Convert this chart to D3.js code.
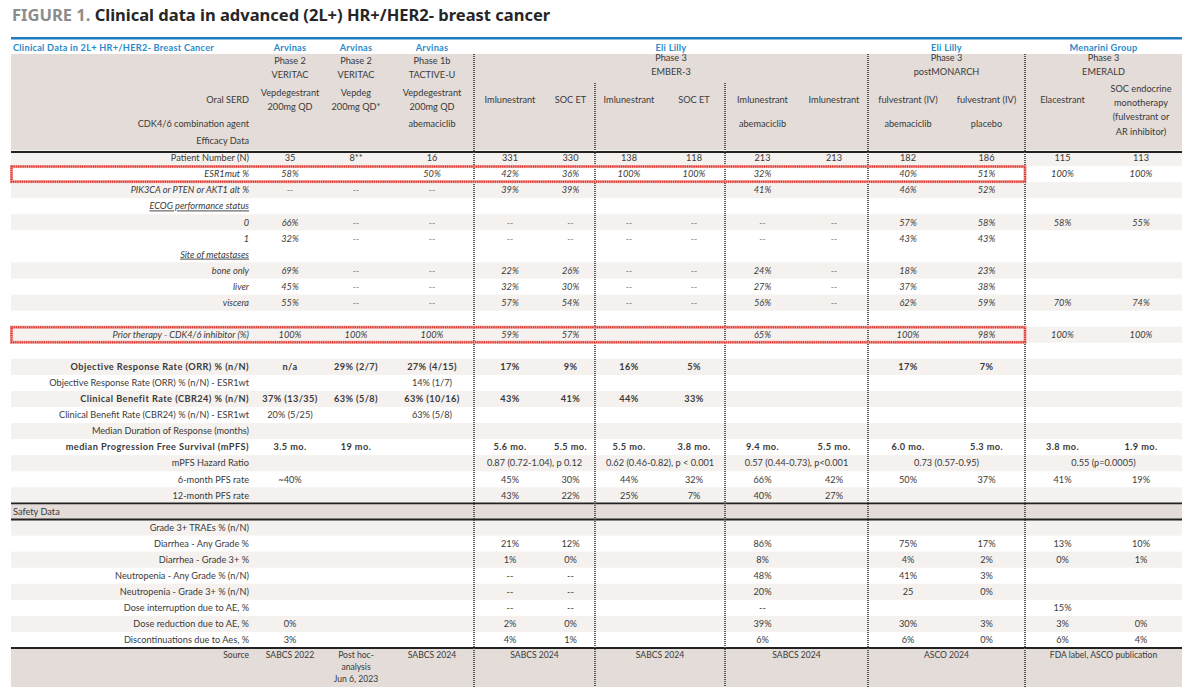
<!DOCTYPE html>
<html>
<head>
<meta charset="utf-8">
<script src="https://cdn.jsdelivr.net/npm/d3@7"></script>
<style>
  body { margin: 0; background: #fff; }
  svg text { font-family: Lato, "Noto Sans", sans-serif; }
</style>
</head>
<body>
<svg id="chart" width="1200" height="698"></svg>
<script>
// ================= data =================
var companies  = ["Arvinas", "Arvinas", "Arvinas", "Eli Lilly", "Eli Lilly", "Menarini Group"];
var phases     = ["Phase 2", "Phase 2", "Phase 1b", "Phase 3", "Phase 3", "Phase 3"];
var trials     = ["VERITAC", "VERITAC", "TACTIVE-U", "EMBER-3", "postMONARCH", "EMERALD"];
var trialSpans = [[0, 0], [1, 1], [2, 2], [3, 8], [9, 10], [11, 12]];
var pairSpans  = [[0, 0], [1, 1], [2, 2], [3, 4], [5, 6], [7, 8], [9, 10], [11, 12]];

var oralSerd = ["Vepdegestrant\n200mg QD", "Vepdeg\n200mg QD*", "Vepdegestrant\n200mg QD",
  "Imlunestrant", "SOC ET", "Imlunestrant", "SOC ET", "Imlunestrant", "Imlunestrant",
  "fulvestrant (IV)", "fulvestrant (IV)", "Elacestrant",
  "SOC endocrine\nmonotherapy\n(fulvestrant or\nAR inhibitor)"];
var cdkAgent = ["", "", "abemaciclib", "", "", "", "", "abemaciclib", "", "abemaciclib", "placebo", "", ""];

var patientN   = ["35", "8**", "16", "331", "330", "138", "118", "213", "213", "182", "186", "115", "113"];
var esr1Mut    = ["58%", "", "50%", "42%", "36%", "100%", "100%", "32%", "", "40%", "51%", "100%", "100%"];
var pik3ca     = ["--", "--", "--", "39%", "39%", "", "", "41%", "", "46%", "52%", "", ""];
var ecog0      = ["66%", "--", "--", "--", "--", "--", "--", "--", "--", "57%", "58%", "58%", "55%"];
var ecog1      = ["32%", "--", "--", "--", "--", "--", "--", "--", "--", "43%", "43%", "", ""];
var boneOnly   = ["69%", "--", "--", "22%", "26%", "--", "--", "24%", "--", "18%", "23%", "", ""];
var liver      = ["45%", "--", "--", "32%", "30%", "--", "--", "27%", "--", "37%", "38%", "", ""];
var viscera    = ["55%", "--", "--", "57%", "54%", "--", "--", "56%", "--", "62%", "59%", "70%", "74%"];
var priorCdk   = ["100%", "100%", "100%", "59%", "57%", "", "", "65%", "", "100%", "98%", "100%", "100%"];
var orr        = ["n/a", "29% (2/7)", "27% (4/15)", "17%", "9%", "16%", "5%", "", "", "17%", "7%", "", ""];
var orrWt      = ["", "", "14% (1/7)", "", "", "", "", "", "", "", "", "", ""];
var cbr        = ["37% (13/35)", "63% (5/8)", "63% (10/16)", "43%", "41%", "44%", "33%", "", "", "", "", "", ""];
var cbrWt      = ["20% (5/25)", "", "63% (5/8)", "", "", "", "", "", "", "", "", "", ""];
var mpfs       = ["3.5 mo.", "19 mo.", "", "5.6 mo.", "5.5 mo.", "5.5 mo.", "3.8 mo.", "9.4 mo.", "5.5 mo.",
                  "6.0 mo.", "5.3 mo.", "3.8 mo.", "1.9 mo."];
var hazard     = ["", "", "", "0.87 (0.72-1.04), p 0.12", "0.62 (0.46-0.82), p < 0.001",
                  "0.57 (0.44-0.73), p<0.001", "0.73 (0.57-0.95)", "0.55 (p=0.0005)"];
var pfs6       = ["~40%", "", "", "45%", "30%", "44%", "32%", "66%", "42%", "50%", "37%", "41%", "19%"];
var pfs12      = ["", "", "", "43%", "22%", "25%", "7%", "40%", "27%", "", "", "", ""];
var diarAny    = ["", "", "", "21%", "12%", "", "", "86%", "", "75%", "17%", "13%", "10%"];
var diarG3     = ["", "", "", "1%", "0%", "", "", "8%", "", "4%", "2%", "0%", "1%"];
var neutAny    = ["", "", "", "--", "--", "", "", "48%", "", "41%", "3%", "", ""];
var neutG3     = ["", "", "", "--", "--", "", "", "20%", "", "25", "0%", "", ""];
var doseInt    = ["", "", "", "--", "--", "", "", "--", "", "", "", "15%", ""];
var doseRed    = ["0%", "", "", "2%", "0%", "", "", "39%", "", "30%", "3%", "3%", "0%"];
var discont    = ["3%", "", "", "4%", "1%", "", "", "6%", "", "6%", "0%", "6%", "4%"];
var sources    = ["SABCS 2022", "Post hoc-\nanalysis\nJun 6, 2023", "SABCS 2024", "SABCS 2024",
                  "SABCS 2024", "SABCS 2024", "ASCO 2024", "FDA label, ASCO publication"];

// body rows (label, values, look)
var rows = [
  {key: "n",     label: "Patient Number (N)", values: patientN},
  {key: "esr1",  label: "ESR1mut %", values: esr1Mut, it: true},
  {key: "pik",   label: "PIK3CA or PTEN or AKT1 alt %", values: pik3ca, it: true},
  {key: "ecog",  label: "ECOG performance status", it: true, ul: true},
  {key: "e0",    label: "0", values: ecog0, it: true},
  {key: "e1",    label: "1", values: ecog1, it: true},
  {key: "site",  label: "Site of metastases", it: true, ul: true},
  {key: "bone",  label: "bone only", values: boneOnly, it: true},
  {key: "liver", label: "liver", values: liver, it: true},
  {key: "visc",  label: "viscera", values: viscera, it: true},
  {key: "b1",    label: ""},
  {key: "prior", label: "Prior therapy - CDK4/6 inhibitor (%)", values: priorCdk, it: true},
  {key: "b2",    label: ""},
  {key: "orr",   label: "Objective Response Rate (ORR) % (n/N)", values: orr, bold: true},
  {key: "orrwt", label: "Objective Response Rate (ORR) % (n/N) - ESR1wt", values: orrWt},
  {key: "cbr",   label: "Clinical Benefit Rate (CBR24) % (n/N)", values: cbr, bold: true},
  {key: "cbrwt", label: "Clinical Benefit Rate (CBR24) % (n/N) - ESR1wt", values: cbrWt},
  {key: "dor",   label: "Median Duration of Response (months)"},
  {key: "mpfs",  label: "median Progression Free Survival (mPFS)", values: mpfs, bold: true},
  {key: "hr",    label: "mPFS Hazard Ratio", spans: hazard},
  {key: "p6",    label: "6-month PFS rate", values: pfs6},
  {key: "p12",   label: "12-month PFS rate", values: pfs12},
  {key: "safety", label: "Safety Data", band: true},
  {key: "g3",    label: "Grade 3+ TRAEs % (n/N)"},
  {key: "da",    label: "Diarrhea - Any Grade %", values: diarAny},
  {key: "d3",    label: "Diarrhea - Grade 3+ %", values: diarG3},
  {key: "na",    label: "Neutropenia - Any Grade % (n/N)", values: neutAny},
  {key: "n3",    label: "Neutropenia - Grade 3+ % (n/N)", values: neutG3},
  {key: "di",    label: "Dose interruption due to AE, %", values: doseInt},
  {key: "dr",    label: "Dose reduction due to AE, %", values: doseRed},
  {key: "dc",    label: "Discontinuations due to Aes, %", values: discont}
];
var redBoxRows = ["esr1", "prior"];

// ================= layout =================
var left = 11, right = 1182;
var colWidths = [247, 64, 68, 84, 72, 49, 68, 62, 75, 68, 80, 77, 75, 82];
var edges = [left].concat(Array.from(d3.cumsum(colWidths), function(d) { return d + left; }));
var labelRight = edges[1] - 9;
var GREY = "#e3dcd8", STRIPE = "#f4f1ef", BLUE = "#2a8bcb", INK = "#3a3a3a";
var FS = "9.2px";

var x = d3.scaleOrdinal()
  .domain(d3.range(13))
  .range(d3.range(13).map(function(j) { return (edges[j + 1] + edges[j + 2]) / 2; }));
function spanX(s) { return (edges[s[0] + 1] + edges[s[1] + 2]) / 2; }

var y = d3.scaleBand().domain(rows.map(function(r) { return r.key; })).range([150, 648]);
var bh = y.bandwidth();

var svg = d3.select("#chart");

// title
var title = svg.append("text").attr("x", 12).attr("y", 21)
  .attr("font-size", "16.5px").attr("font-weight", 700)
  .style("font-family", "'Noto Sans', sans-serif");
title.append("tspan").attr("fill", "#8c8c8c").text("FIGURE 1. ");
title.append("tspan").attr("fill", "#262626").text("Clinical data in advanced (2L+) HR+/HER2- breast cancer");

// top blue rule
svg.append("rect").attr("x", left).attr("y", 37).attr("width", right - left).attr("height", 2.5).attr("fill", "#1f7cbf");

// grey header band
svg.append("rect").attr("x", left).attr("y", 54).attr("width", right - left).attr("height", 98).attr("fill", GREY);

// stripes & safety band
rows.forEach(function(r, i) {
  var shaded = i < 6 ? i % 2 === 0 : i % 2 === 1;
  if (r.band) {
    svg.append("rect").attr("x", left).attr("y", y(r.key)).attr("width", right - left).attr("height", bh).attr("fill", GREY);
  } else if (shaded) {
    svg.append("rect").attr("x", left).attr("y", y(r.key)).attr("width", right - left).attr("height", bh).attr("fill", STRIPE);
  }
});

// source band
svg.append("rect").attr("x", left).attr("y", 648).attr("width", right - left).attr("height", 39).attr("fill", GREY);

// black rules
[152, y("safety"), y("safety") + bh, 648].forEach(function(yy) {
  svg.append("line").attr("x1", left).attr("x2", right).attr("y1", yy).attr("y2", yy)
    .attr("stroke", "#222").attr("stroke-width", 1.8);
});

// dotted vertical dividers
var dividers = [{c: 3, top: 54}, {c: 5, top: 83}, {c: 7, top: 83}, {c: 9, top: 54}, {c: 11, top: 54}];
dividers.forEach(function(d) {
  var xx = edges[d.c + 1];
  svg.append("line").attr("x1", xx).attr("x2", xx).attr("y1", d.top).attr("y2", 687)
    .attr("stroke", "#4a4a4a").attr("stroke-width", 1.8).attr("stroke-dasharray", "1,1");
});

// red highlight boxes
redBoxRows.forEach(function(k) {
  svg.append("rect").attr("x", left + 0.5).attr("y", y(k) + 0.5)
    .attr("width", edges[12] - left - 0.5).attr("height", bh - 1)
    .attr("fill", "none").attr("stroke", "#f2a09a").attr("stroke-width", 3);
  svg.append("rect").attr("x", left + 0.5).attr("y", y(k) + 0.5)
    .attr("width", edges[12] - left - 0.5).attr("height", bh - 1)
    .attr("fill", "none").attr("stroke", "#d9302a").attr("stroke-width", 2)
    .attr("stroke-dasharray", "1.2,1");
});

// helper for multi-line text
function multi(g, xx, yc, str, lineH, anchor) {
  var lines = str.split("\n");
  var t = g.append("text").attr("text-anchor", anchor || "middle").attr("font-size", FS).attr("fill", INK);
  lines.forEach(function(l, k) {
    t.append("tspan").attr("x", xx).attr("y", yc + (k - (lines.length - 1) / 2) * lineH)
      .attr("dy", "0.35em").text(l);
  });
  return t;
}

var g = svg.append("g");

// header row
g.append("text").attr("x", 13).attr("y", 48).attr("dy", "0.35em")
  .attr("font-size", FS).attr("font-weight", 700).attr("fill", BLUE)
  .attr("letter-spacing", "0.25px")
  .text("Clinical Data in 2L+ HR+/HER2- Breast Cancer");
companies.forEach(function(c, i) {
  g.append("text").attr("x", spanX(trialSpans[i])).attr("y", 48).attr("dy", "0.35em")
    .attr("text-anchor", "middle").attr("font-size", FS).attr("font-weight", 700)
    .attr("letter-spacing", "0.25px").attr("fill", BLUE).text(c);
  multi(g, spanX(trialSpans[i]), i < 3 ? 68 : 65, phases[i] + "\n" + trials[i], 13.5);
});

// header labels
[["Oral SERD", 100], ["CDK4/6 combination agent", 124], ["Efficacy Data", 141]].forEach(function(d) {
  g.append("text").attr("x", labelRight).attr("y", d[1]).attr("dy", "0.35em")
    .attr("text-anchor", "end").attr("font-size", FS).attr("fill", INK).text(d[0]);
});
oralSerd.forEach(function(s, j) {
  var n = s.split("\n").length;
  multi(g, x(j), n > 2 ? 110 : 100, s, n > 2 ? 14.3 : 14);
});
cdkAgent.forEach(function(s, j) {
  if (s) multi(g, x(j), 124, s, 14);
});

// body rows
rows.forEach(function(r) {
  var yc = y(r.key) + bh / 2;
  var lab = g.append("text").attr("y", yc).attr("dy", "0.35em")
    .attr("font-size", FS).attr("fill", INK)
    .attr("font-style", r.it ? "italic" : null)
    .attr("font-weight", r.bold ? 700 : null)
    .attr("letter-spacing", r.bold ? "0.45px" : null)
    .attr("text-decoration", r.ul ? "underline" : null)
    .text(r.label);
  if (r.band) lab.attr("x", 13); else lab.attr("x", labelRight).attr("text-anchor", "end");

  if (r.values) {
    r.values.forEach(function(v, j) {
      if (!v) return;
      g.append("text").attr("x", x(j)).attr("y", yc).attr("dy", "0.35em")
        .attr("text-anchor", "middle").attr("font-size", FS).attr("fill", INK)
        .attr("font-style", r.it ? "italic" : null)
        .attr("font-weight", r.bold ? 700 : null)
        .attr("letter-spacing", r.bold ? "0.4px" : null)
        .text(v);
    });
  }
  if (r.spans) {
    r.spans.forEach(function(v, k) {
      if (!v) return;
      g.append("text").attr("x", spanX(pairSpans[k])).attr("y", yc).attr("dy", "0.35em")
        .attr("text-anchor", "middle").attr("font-size", FS).attr("fill", INK).text(v);
    });
  }
});

// source row
g.append("text").attr("x", labelRight).attr("y", 655).attr("dy", "0.35em")
  .attr("text-anchor", "end").attr("font-size", "8.6px").attr("fill", INK).text("Source");
sources.forEach(function(s, k) {
  var n = s.split("\n").length;
  multi(g, spanX(pairSpans[k]), 655 + (n - 1) * 6, s, 12).attr("font-size", "8.6px");
});
</script>
</body>
</html>
